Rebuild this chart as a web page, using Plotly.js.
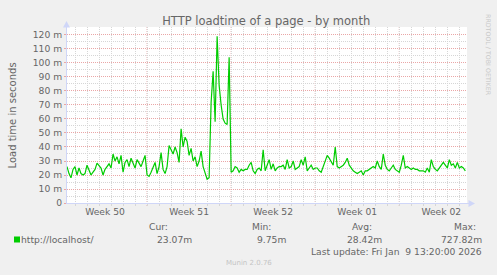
<!DOCTYPE html>
<html>
<head>
<meta charset="utf-8">
<script src="https://cdn.plot.ly/plotly-3.0.1.min.js"></script>
<style>
html,body{margin:0;padding:0;background:#f0f0f0;}
#chart{width:497px;height:275px;}
</style>
</head>
<body>
<div id="chart"></div>
<script>
// ---- data (load time in milliseconds "m", 4-hour samples) ----
const seriesName = 'http://localhost/';
const startTimeUTC = Date.UTC(2025, 11, 8, 8, 0, 0);
const stepHours = 4;
const loadTime = [
  26,21,18,24,26,20,25,21,20,21,
  27,23,20,22,24,28.5,27,25,20,24,
  26,28,25,35,30,33,28,34,22,29,
  31,26,32,28,25,31,28,26,30,34,
  20,19,22,26,29,21,26,36,24,21,
  26,41,38,35,40,36,29,53,40,47,
  44,34,39,30,33,26,30,37,26,22,
  17,18,72,94,58,119,84,70,60,57,
  56,104,22,23,26,25,22,24,23,24,
  24,27,29,23,21,24,25,23,38,23,
  27,31,24,28,23,25,26,26,27,24,
  31,25,26,30,24,25,26,31,27,33,
  23,25,27,24,25,25,23,22,26,29,
  34,32,29,27,40,26,25,26,27,29,
  32,27,25,23,22,21,22,23,20,23,
  23,24,25,26,25,30,26,24,35,27,
  24,23,25,27,24,23,22,27,34,25,
  26,25,24,25,24,24,23,23,23,22,
  25,22,31,26,24,23,25,27,29,27,
  25,31,27,28,25,29,25,26,25,23
];
const weekStarts = ['2025-12-15','2025-12-22','2025-12-29','2026-01-05'];
const weekLabelDates = ['2025-12-11 12:00','2025-12-18 12:00','2025-12-25 12:00','2026-01-01 12:00','2026-01-08 12:00'];
const weekLabels = ['Week 50','Week 51','Week 52','Week 01','Week 02'];
const yTickVals = [0,10,20,30,40,50,60,70,80,90,100,110,120];
const yTickText = ['0','10 m','20 m','30 m','40 m','50 m','60 m','70 m','80 m','90 m','100 m','110 m','120 m'];
const statHeaders = ['Cur:','Min:','Avg:','Max:'];
const statValues = ['23.07m','9.75m','28.42m','727.82m'];
const lastUpdate = 'Last update: Fri Jan\u00a0 9 13:20:00 2026';
const titleText = 'HTTP loadtime of a page - by month';
const yTitle = 'Load time in seconds';

const times = loadTime.map((_, i) => startTimeUTC + i * stepHours * 3600000);

// ---- layout helpers (pixel -> paper) ----
const L = 67, T = 27, W = 400, H = 176;
const px = x => (x - L) / W;
const py = y => (T + H - y) / H;

const FONT = 'DejaVu Sans, Verdana, sans-serif';
const TXT = '#666666';
const AXIS = '#CFD6F8';
const MGRID = '#eaa6a6';
const GRID = '#d6d6d6';

const trace = {
  x: times, y: loadTime, type: 'scatter', mode: 'lines',
  line: {color: '#00cc00', width: 1.2},
  hoverinfo: 'skip', showlegend: false
};

const shapes = weekStarts.map(d => ({
  type: 'line', xref: 'x', yref: 'paper', x0: d, x1: d, y0: -3 / H, y1: 1,
  layer: 'between', line: {color: MGRID, width: 1, dash: '1px,1px'}
}));
// axis extensions + arrows
shapes.push({type:'line', xref:'paper', yref:'paper', x0:px(66.5), x1:px(66.5), y0:1, y1:py(24), line:{color:AXIS,width:1}});
shapes.push({type:'path', xref:'paper', yref:'paper', path:`M ${px(66.5)},${py(21)} L ${px(63)},${py(27.5)} L ${px(70)},${py(27.5)} Z`, fillcolor:AXIS, line:{width:0}});
shapes.push({type:'line', xref:'paper', yref:'paper', x0:1, x1:px(470), y0:py(203.5), y1:py(203.5), line:{color:AXIS,width:1}});
shapes.push({type:'path', xref:'paper', yref:'paper', path:`M ${px(475)},${py(203.5)} L ${px(468.5)},${py(200)} L ${px(468.5)},${py(207)} Z`, fillcolor:AXIS, line:{width:0}});
// legend colour box
shapes.push({type:'rect', xref:'paper', yref:'paper', x0:px(14), x1:px(20), y0:py(242.5), y1:py(236.5), fillcolor:'#00cc00', line:{width:0}});

function ann(text, x, y, xanchor, size, color, extra) {
  return Object.assign({text, xref:'paper', yref:'paper', x:px(x), y:py(y), xanchor, yanchor:'middle',
    showarrow:false, borderpad:0, font:{family:FONT, size:size, color:color}}, extra || {});
}
const LS = 9.2;
const annotations = [
  ann(yTitle, 11.5, 115, 'center', 10, TXT, {textangle:-90}),
  ann(seriesName, 20, 239.5, 'left', LS, TXT),
  ann(statHeaders[0], 168.5, 227, 'right', LS, TXT),
  ann(statValues[0], 192.5, 239.5, 'right', LS, TXT),
  ann(statHeaders[1], 272, 227, 'right', LS, TXT),
  ann(statValues[1], 286.5, 239.5, 'right', LS, TXT),
  ann(statHeaders[2], 373, 227, 'right', LS, TXT),
  ann(statValues[2], 383, 239.5, 'right', LS, TXT),
  ann(statHeaders[3], 476.5, 227, 'right', LS, TXT),
  ann(statValues[3], 483, 239.5, 'right', LS, TXT),
  ann(lastUpdate, 482.5, 251.5, 'right', LS, TXT),
  ann('Munin 2.0.76', 248.5, 262.5, 'center', 7, '#c4c4c4'),
  ann('RRDTOOL / TOBI OETIKER', 488, 55, 'center', 6.3, '#c8c8c8', {textangle:90})
];

const layout = {
  width: 497, height: 275,
  paper_bgcolor: '#f0f0f0', plot_bgcolor: '#ffffff',
  margin: {l: L, r: 497 - L - W, t: T, b: 275 - T - H, pad: 0},
  font: {family: FONT, color: TXT, size: LS},
  title: {text: titleText, x: 247.5 / 497, xanchor: 'center', xref: 'paper', yref: 'container',
          y: 1 - 21 / 275, yanchor: 'middle', font: {family: FONT, size: 11.5, color: TXT}},
  showlegend: false,
  xaxis: {
    type: 'date', range: ['2025-12-08 08:00', '2026-01-10 15:20'], fixedrange: true,
    tickmode: 'array', tickvals: weekLabelDates, ticktext: weekLabels,
    ticks: '', showgrid: false, zeroline: false,
    showline: true, linecolor: AXIS, linewidth: 1,
    tickfont: {family: FONT, size: LS, color: TXT},
    minor: {tickmode: 'linear', tick0: '2025-12-08', dtick: 86400000, showgrid: true,
            gridcolor: GRID, griddash: '1px,1px', gridwidth: 1, ticks: 'outside', ticklen: 2, tickcolor: GRID}
  },
  yaxis: {
    range: [0, 125.7], fixedrange: true,
    tickmode: 'array', tickvals: yTickVals, ticktext: yTickText,
    showgrid: true, gridcolor: MGRID, griddash: '1px,1px', gridwidth: 1, zeroline: false,
    showline: true, linecolor: AXIS, linewidth: 1,
    ticks: 'outside', ticklen: 2, tickcolor: MGRID,
    tickfont: {family: FONT, size: LS, color: TXT},
    minor: {tickmode: 'linear', tick0: 0, dtick: 5, showgrid: true, gridcolor: GRID, griddash: '1px,1px', gridwidth: 1}
  },
  shapes, annotations
};

Plotly.newPlot('chart', [trace], layout, {staticPlot: true, displayModeBar: false});
</script>
</body>
</html>
